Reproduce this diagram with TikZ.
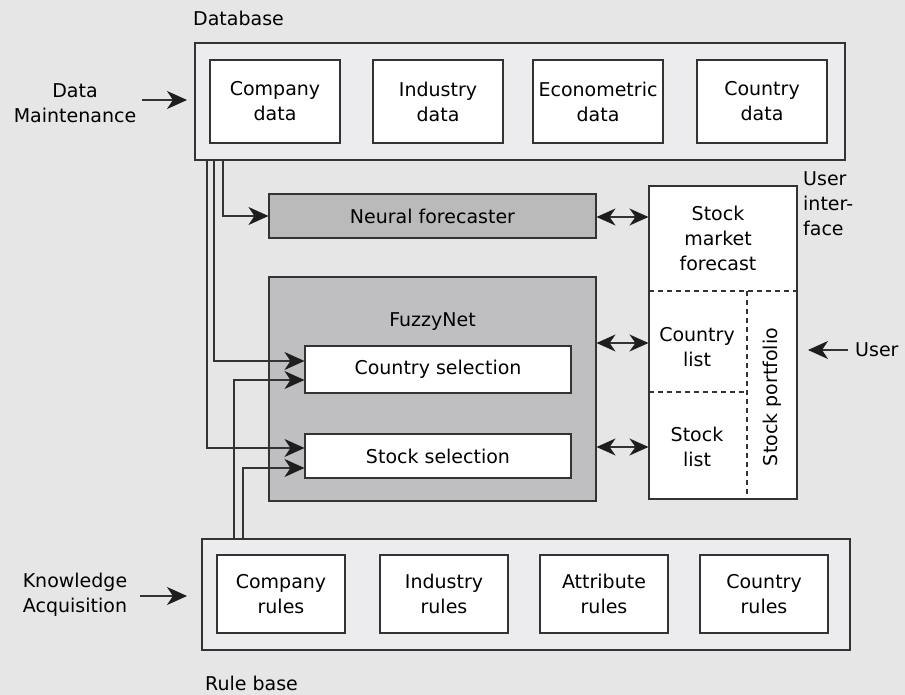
\documentclass[tikz,border=0pt]{standalone}
\usepackage{fontspec}
\setmainfont{DejaVu Sans}
\usetikzlibrary{arrows.meta}
\definecolor{bg}{HTML}{E6E6E6}
\definecolor{dbfill}{HTML}{ECECEE}
\definecolor{nffill}{HTML}{BABABA}
\definecolor{fzfill}{HTML}{BFBFC1}
\definecolor{ln}{HTML}{333333}
\definecolor{tip}{HTML}{1E1E1E}
\begin{document}
\begin{tikzpicture}[x=1pt,y=-1pt,
  font=\fontsize{19}{25}\selectfont,
  outer/.style={draw=ln,line width=1.1pt,fill=dbfill,minimum width=#1,inner sep=0pt},
  inbox/.style={draw=ln,line width=1.1pt,fill=white,align=center,inner sep=0pt},
  arr/.style={draw=ln,line width=1.1pt,-{Stealth[length=20pt,width=18pt,inset=6pt,color=tip]}},
  darr/.style={draw=ln,line width=1.1pt,{Stealth[length=19pt,width=17pt,inset=6pt,color=tip]}-{Stealth[length=19pt,width=17pt,inset=6pt,color=tip]}},
  lbl/.style={align=center,inner sep=0pt}]
\fill[bg] (0,0) rectangle (905,695);
\useasboundingbox (0,0) rectangle (905,695);

% Database
\node[outer=650pt,minimum height=117pt] (db) at (520,101.5) {};
\node[inbox,minimum width=130pt,minimum height=83pt] (cd) at (275,101.5) {Company\\data};
\node[inbox,minimum width=130pt,minimum height=83pt] (id) at (438,101.5) {Industry\\data};
\node[inbox,minimum width=130pt,minimum height=83pt] (ed) at (598,101.5) {Econometric\\data};
\node[inbox,minimum width=130pt,minimum height=83pt] (cod) at (762,101.5) {Country\\data};
\node[lbl,anchor=west] (dbl) at (193,18) {Database};
\node[lbl] (dm) at (75,103.5) {Data\\Maintenance};

% Rule base
\node[outer=648pt,minimum height=111pt] (rb) at (526,594.5) {};
\node[inbox,minimum width=128pt,minimum height=78pt] (cr) at (281,594) {Company\\rules};
\node[inbox,minimum width=128pt,minimum height=78pt] (ir) at (444,594) {Industry\\rules};
\node[inbox,minimum width=128pt,minimum height=78pt] (ar) at (604,594) {Attribute\\rules};
\node[inbox,minimum width=128pt,minimum height=78pt] (cor) at (764,594) {Country\\rules};
\node[lbl,anchor=west] (rbl) at (205,683) {Rule base};
\node[lbl] (ka) at (75,594.5) {Knowledge\\Acquisition};

% Neural forecaster
\node[draw=ln,line width=1.1pt,fill=nffill,minimum width=327pt,minimum height=44pt,inner sep=0pt] (nf) at (432.5,216) {Neural forecaster};
% FuzzyNet
\node[draw=ln,line width=1.1pt,fill=fzfill,minimum width=327pt,minimum height=224pt,inner sep=0pt] (fz) at (432.5,389) {};
\node[lbl] (fzl) at (432.5,322) {FuzzyNet};
\node[inbox,minimum width=266pt,minimum height=47pt] (cs) at (438,369.5) {Country selection};
\node[inbox,minimum width=266pt,minimum height=44pt] (ss) at (438,456) {Stock selection};

% User interface
\node[draw=ln,line width=1.1pt,fill=white,minimum width=148pt,minimum height=313pt,inner sep=0pt] (ui) at (723,342.5) {};
\coordinate (d1l) at (649,291); \coordinate (d1r) at (797,291);
\coordinate (d2l) at (649,392); \coordinate (d2r) at (747,392);
\coordinate (d3t) at (747,291); \coordinate (d3b) at (747,499);
\draw[ln,line width=1.1pt,dash pattern=on 5pt off 4pt] (d1l) -- (d1r);
\draw[ln,line width=1.1pt,dash pattern=on 5pt off 4pt] (d2l) -- (d2r);
\draw[ln,line width=1.1pt,dash pattern=on 5pt off 4pt] (d3t) -- (d3b);
\node[lbl] (smf) at (718,238) {Stock\\market\\forecast};
\node[lbl] (cl) at (697,347.5) {Country\\list};
\node[lbl] (sl) at (697,446.5) {Stock\\list};
\node[lbl,rotate=90] (sp) at (772,397) {Stock portfolio};
\node[lbl,align=left,anchor=north west] (uil) at (803,171) {User\\inter-\\face};
\node[lbl,anchor=west] (usr) at (855,350) {User};
\coordinate (us) at (848,350); \coordinate (ue) at (808,350);
\draw[arr] (us) -- (ue);

% Input arrows
\coordinate (kas) at (140,596); \coordinate (kae) at (187,596);
\draw[arr] (kas) -- (kae);
\coordinate (dms) at (142,100); \coordinate (dme) at (187,100);
\draw[arr] (dms) -- (dme);

% Database connectors
\coordinate (x1) at (223,0); \coordinate (x2) at (214,0); \coordinate (x3) at (207,0);
\draw[arr] (db.south -| x1) |- (nf.west);
\draw[arr] (db.south -| x2) |- ([yshift=8.5pt]cs.west);
\draw[arr] (db.south -| x3) |- ([yshift=8pt]ss.west);
% Rule base connectors
\coordinate (x4) at (234,0); \coordinate (x5) at (243,0);
\draw[arr] (rb.north -| x4) |- ([yshift=-10.5pt]cs.west);
\draw[arr] (rb.north -| x5) |- ([yshift=-12pt]ss.west);

% Double arrows
\coordinate (a1) at (0,217); \coordinate (a2) at (0,343); \coordinate (a3) at (0,447);
\draw[darr] (nf.east |- a1) -- (ui.west |- a1);
\draw[darr] (fz.east |- a2) -- (ui.west |- a2);
\draw[darr] (fz.east |- a3) -- (ui.west |- a3);
\end{tikzpicture}
\end{document}
